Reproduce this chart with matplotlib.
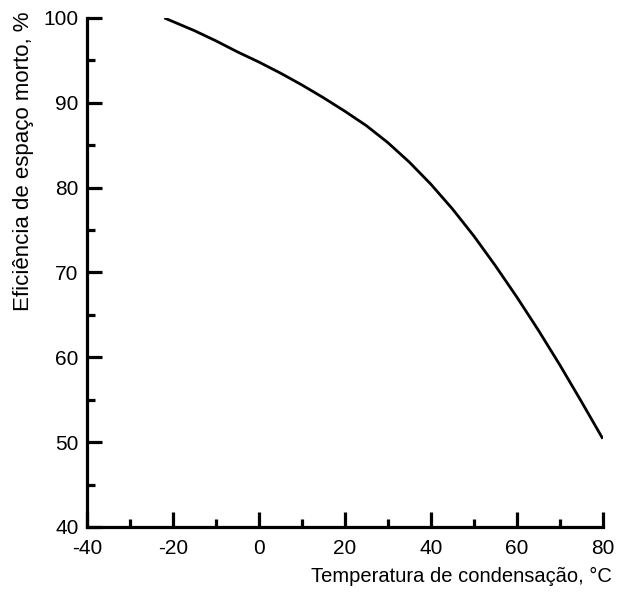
import matplotlib
matplotlib.use("Agg")
import matplotlib.pyplot as plt
from matplotlib.ticker import MultipleLocator

# curve
temp_c = [-22, -15, -10, -5, 0, 5, 10, 15, 20, 25, 30,
          35, 40, 45, 50, 55, 60, 65, 70, 75, 80]
efficiency = [100.0, 98.5, 97.3, 96.0, 94.8, 93.5, 92.1, 90.6, 89.0, 87.3, 85.3,
              83.0, 80.4, 77.5, 74.3, 70.8, 67.1, 63.2, 59.1, 54.8, 50.4]

x_label = "Temperatura de condensação, °C"
y_label = "Eficiência de espaço morto, %"

plt.rcParams["font.family"] = ["Liberation Sans", "DejaVu Sans"]

fig = plt.figure(figsize=(6.17, 5.94), dpi=100)
ax = fig.add_axes([0.141, 0.1128, 0.836, 0.857])

ax.plot(temp_c, efficiency, color="black", lw=2.0, solid_capstyle="butt")

ax.set_xlim(-40, 80)
ax.set_ylim(40, 100)
ax.xaxis.set_major_locator(MultipleLocator(20))
ax.xaxis.set_minor_locator(MultipleLocator(10))
ax.yaxis.set_major_locator(MultipleLocator(10))
ax.yaxis.set_minor_locator(MultipleLocator(5))
ax.xaxis.set_major_formatter(lambda v, pos: f"{v:.0f}")

for side in ("top", "right"):
    ax.spines[side].set_visible(False)
for side in ("left", "bottom"):
    ax.spines[side].set_linewidth(2.3)

ax.tick_params(which="major", direction="in", length=11, width=2.3,
               labelsize=15, colors="black")
ax.tick_params(which="minor", direction="in", length=6, width=2.3)
ax.tick_params(axis="x", which="major", pad=8.5)
ax.tick_params(axis="y", which="major", pad=6)

ax.set_xlabel(x_label, fontsize=14.5, loc="right")
ax.set_ylabel(y_label, fontsize=16, loc="top")
ax.xaxis.set_label_coords(1.017, -0.079)
ax.yaxis.set_label_coords(-0.103, 1.012)

fig.savefig("out.png", dpi=100)
